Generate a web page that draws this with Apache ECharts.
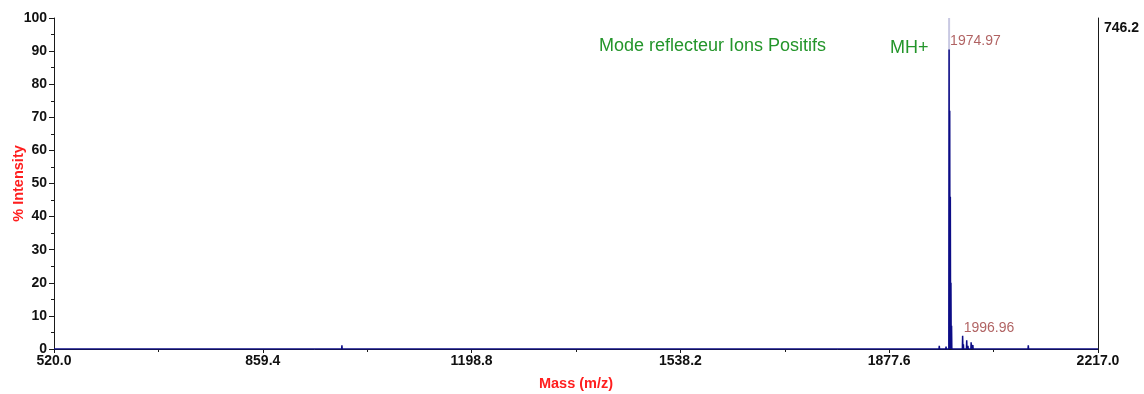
<!DOCTYPE html>
<html>
<head>
<meta charset="utf-8">
<script src="https://cdn.jsdelivr.net/npm/echarts@6/dist/echarts.min.js"></script>
<style>
  html, body { margin: 0; padding: 0; background: #ffffff; }
  #chart { width: 1144px; height: 394px; }
</style>
</head>
<body>
<div id="chart"></div>
<script>
// Mass axis range and tick step (m/z)
const massMin = 520.0;
const massMax = 2217.0;
const massStep = 339.4;

// Absolute intensity of the 100 % level
const fullScaleCounts = '746.2';

// Main isotope cluster (m/z, % intensity)
const clusterMasses = [1974.97, 1975.97, 1976.97, 1977.97, 1978.97];
const clusterIntensities = [90.5, 72, 46, 20, 7];

// Apex of the base peak (% intensity)
const basePeakMass = 1974.97;
const basePeakTop = 100;

// Minor peaks around the cluster
const minorMasses = [1940.7, 1942.8, 1959.0, 1996.96, 1998.2, 2003.6, 2005.6, 2010.8, 2013.6, 2018.0, 2024.0, 2047.0, 2090.0, 2103.7, 2111.0, 2128.0, 2163.0, 2190.0];
const minorIntensities = [0.4, 0.6, 1.0, 4.0, 1.4, 2.6, 1.0, 2.0, 1.2, 0.6, 0.4, 0.3, 0.5, 1.1, 0.5, 0.3, 0.4, 0.3];

// Baseline noise
const noiseMasses = [548, 575, 603, 619, 652, 688, 714, 741, 777, 803, 836, 871, 905, 938, 965, 988, 1012, 1047, 1083, 1119, 1152, 1187, 1205, 1221, 1238, 1252, 1270, 1289, 1306, 1321, 1340, 1372, 1404, 1437, 1469, 1502, 1531, 1566, 1598, 1627, 1659, 1688, 1714, 1739, 1761, 1785, 1806, 1829, 1851, 1870, 1893, 1912, 1928, 1951, 1966, 1970];
const noiseIntensities = [0.3, 0.2, 0.3, 0.4, 0.2, 0.3, 0.2, 0.3, 0.2, 0.3, 0.2, 0.3, 0.2, 0.3, 0.4, 1.1, 0.3, 0.2, 0.3, 0.2, 0.3, 0.2, 0.4, 0.3, 0.4, 0.3, 0.3, 0.4, 0.3, 0.3, 0.2, 0.3, 0.2, 0.3, 0.2, 0.3, 0.3, 0.2, 0.3, 0.2, 0.3, 0.2, 0.3, 0.3, 0.4, 0.3, 0.3, 0.4, 0.3, 0.4, 0.3, 0.4, 0.5, 0.6, 0.5, 0.7];

// Labelled peaks
const labelMasses = [1974.97, 1996.96];
const labelIntensities = [90.5, 4.0];

// Axis tick values (% intensity)
const intensityMin = 0;
const intensityMax = 100;
const intensityStep = 10;

// Offset so that the first tick lands on massMin
const shift = (m) => m - massMin;

// Build a stick-profile trace from the peak lists
function buildTrace() {
  const peaks = [];
  clusterMasses.forEach((m, i) => peaks.push([m, clusterIntensities[i]]));
  minorMasses.forEach((m, i) => peaks.push([m, minorIntensities[i]]));
  noiseMasses.forEach((m, i) => peaks.push([m, noiseIntensities[i]]));
  peaks.sort((a, b) => a[0] - b[0]);
  const half = 0.45;
  const pts = [[shift(massMin), 0]];
  peaks.forEach(([m, h]) => {
    pts.push([shift(m - half), 0]);
    pts.push([shift(m), h]);
    pts.push([shift(m + half), 0]);
  });
  pts.push([shift(massMax), 0]);
  return pts;
}

const chart = echarts.init(document.getElementById('chart'));
const font = 'Liberation Sans, Arial, sans-serif';

chart.setOption({
  animation: false,
  backgroundColor: '#ffffff',
  grid: { left: 54, right: 46, top: 18, bottom: 45, containLabel: false, outerBoundsMode: 'none' },
  xAxis: {
    type: 'value',
    min: 0,
    max: shift(massMax),
    interval: massStep,
    name: 'Mass (m/z)',
    nameLocation: 'middle',
    nameGap: 27,
    nameMoveOverlap: false,
    nameTextStyle: { color: '#ff1e1e', fontWeight: 'bold', fontSize: 14.5, fontFamily: font },
    axisLine: { show: true, onZero: false, lineStyle: { color: '#1a1a1a', width: 1 } },
    axisTick: { show: true, length: 4, lineStyle: { color: '#1a1a1a' } },
    minorTick: { show: true, splitNumber: 2, length: 3, lineStyle: { color: '#1a1a1a' } },
    splitLine: { show: false },
    axisLabel: {
      margin: 5,
      color: '#111',
      fontWeight: 'bold',
      fontSize: 14,
      fontFamily: font,
      showMinLabel: true,
      showMaxLabel: true,
      formatter: (v) => (v + massMin).toFixed(1)
    }
  },
  yAxis: [
    {
      type: 'value',
      position: 'left',
      min: intensityMin,
      max: intensityMax,
      interval: intensityStep,
      name: '% Intensity',
      nameLocation: 'middle',
      nameGap: 28,
      nameRotate: 90,
      nameMoveOverlap: false,
      nameTextStyle: { color: '#ff1e1e', fontWeight: 'bold', fontSize: 14.5, fontFamily: font },
      axisLine: { show: true, lineStyle: { color: '#1a1a1a', width: 1 } },
      axisTick: { show: true, length: 5, lineStyle: { color: '#1a1a1a' } },
      minorTick: { show: true, splitNumber: 2, length: 3, lineStyle: { color: '#1a1a1a' } },
      splitLine: { show: false },
      axisLabel: { margin: 7, color: '#111', fontWeight: 'bold', fontSize: 14, fontFamily: font }
    },
    {
      type: 'value',
      position: 'right',
      min: intensityMin,
      max: intensityMax,
      axisLine: { show: true, lineStyle: { color: '#1a1a1a', width: 1 } },
      axisTick: { show: false },
      axisLabel: { show: false },
      splitLine: { show: false }
    }
  ],
  graphic: [
    {
      type: 'text',
      left: 1104,
      top: 21,
      style: { text: fullScaleCounts, fill: '#111', font: 'bold 14px ' + font }
    },
    {
      type: 'text',
      left: 599,
      top: 37,
      style: { text: 'Mode reflecteur Ions Positifs', fill: '#23952a', font: '18px ' + font }
    },
    {
      type: 'text',
      left: 890,
      top: 39,
      style: { text: 'MH+', fill: '#23952a', font: '18px ' + font }
    }
  ],
  series: [
    {
      // apex marker of the base peak
      type: 'line',
      data: [[shift(basePeakMass), 0], [shift(basePeakMass), basePeakTop]],
      symbol: 'none',
      lineStyle: { color: '#c9c9e3', width: 2 },
      silent: true,
      z: 1
    },
    {
      type: 'line',
      data: buildTrace(),
      symbol: 'none',
      sampling: false,
      lineStyle: { color: '#0c0c86', width: 1.5 },
      silent: true,
      z: 2
    },
    {
      type: 'scatter',
      data: labelMasses.map((m, i) => [shift(m), labelIntensities[i]]),
      symbolSize: 0,
      silent: true,
      z: 3,
      label: {
        show: true,
        position: [1, -1],
        align: 'left',
        verticalAlign: 'bottom',
        color: '#9c3b3b',
        fontSize: 14,
        fontFamily: font,
        formatter: (p) => (p.value[0] + massMin).toFixed(2)
      }
    }
  ]
});
</script>
</body>
</html>
